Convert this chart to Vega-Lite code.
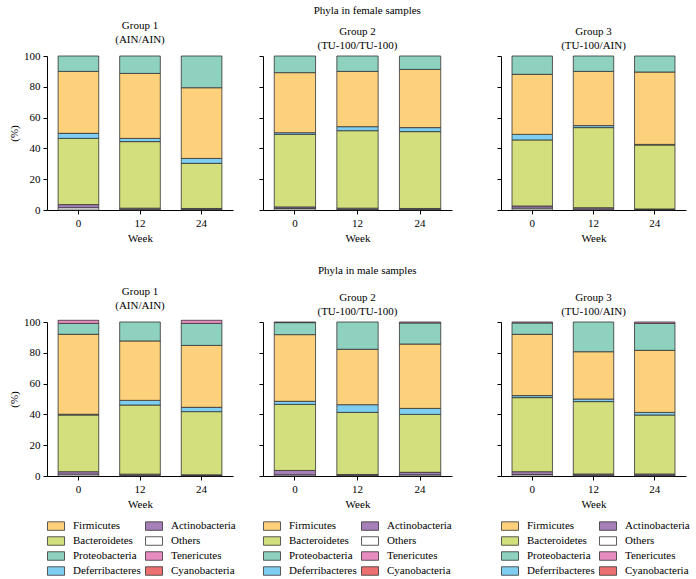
{
"$schema": "https://vega.github.io/schema/vega-lite/v6.json",
"padding": {"left": 8, "top": 5, "right": 5, "bottom": 5},
"config": {
 "font": "Liberation Serif",
 "view": {"stroke": null},
 "axis": {"domainColor": "#000", "tickColor": "#000", "labelColor": "#000", "titleColor": "#000", "labelFontSize": 11, "titleFontSize": 11, "titleFontWeight": "normal", "grid": false, "tickSize": 4, "labelPadding": 3, "domainWidth": 1},
 "title": {"fontSize": 11, "fontWeight": "normal", "color": "#000", "subtitleFontSize": 11, "subtitleColor": "#000", "anchor": "middle", "offset": 5, "subtitlePadding": 3},
 "legend": {"orient": "bottom", "columns": 2, "symbolType": "M-1,-0.5H1V0.5H-1Z", "symbolSize": 289, "symbolStrokeColor": "#333", "symbolStrokeWidth": 0.8, "labelFontSize": 11, "labelColor": "#000", "labelOffset": 8, "columnPadding": 2, "rowPadding": -7, "offset": 8}
},
"datasets": {
 "phyla": [
  {"phylum": "Others", "stack": 0},
  {"phylum": "Actinobacteria", "stack": 1},
  {"phylum": "Cyanobacteria", "stack": 2},
  {"phylum": "Bacteroidetes", "stack": 3},
  {"phylum": "Deferribacteres", "stack": 4},
  {"phylum": "Firmicutes", "stack": 5},
  {"phylum": "Proteobacteria", "stack": 6},
  {"phylum": "Tenericutes", "stack": 7}
 ],
 "bars": [
  {"sex": "female", "group": 1, "week": 0, "phylum": "Others", "value": 1.5},
  {"sex": "female", "group": 1, "week": 0, "phylum": "Actinobacteria", "value": 2.0},
  {"sex": "female", "group": 1, "week": 0, "phylum": "Bacteroidetes", "value": 43.0},
  {"sex": "female", "group": 1, "week": 0, "phylum": "Deferribacteres", "value": 3.3},
  {"sex": "female", "group": 1, "week": 0, "phylum": "Firmicutes", "value": 40.2},
  {"sex": "female", "group": 1, "week": 0, "phylum": "Proteobacteria", "value": 10.0},
  {"sex": "female", "group": 1, "week": 12, "phylum": "Others", "value": 0.5},
  {"sex": "female", "group": 1, "week": 12, "phylum": "Actinobacteria", "value": 0.7},
  {"sex": "female", "group": 1, "week": 12, "phylum": "Bacteroidetes", "value": 43.2},
  {"sex": "female", "group": 1, "week": 12, "phylum": "Deferribacteres", "value": 2.1},
  {"sex": "female", "group": 1, "week": 12, "phylum": "Firmicutes", "value": 42.2},
  {"sex": "female", "group": 1, "week": 12, "phylum": "Proteobacteria", "value": 11.3},
  {"sex": "female", "group": 1, "week": 24, "phylum": "Others", "value": 0.4},
  {"sex": "female", "group": 1, "week": 24, "phylum": "Actinobacteria", "value": 0.6},
  {"sex": "female", "group": 1, "week": 24, "phylum": "Bacteroidetes", "value": 29.3},
  {"sex": "female", "group": 1, "week": 24, "phylum": "Deferribacteres", "value": 3.2},
  {"sex": "female", "group": 1, "week": 24, "phylum": "Firmicutes", "value": 45.9},
  {"sex": "female", "group": 1, "week": 24, "phylum": "Proteobacteria", "value": 20.6},
  {"sex": "female", "group": 2, "week": 0, "phylum": "Others", "value": 1.0},
  {"sex": "female", "group": 2, "week": 0, "phylum": "Actinobacteria", "value": 1.0},
  {"sex": "female", "group": 2, "week": 0, "phylum": "Bacteroidetes", "value": 47.1},
  {"sex": "female", "group": 2, "week": 0, "phylum": "Deferribacteres", "value": 1.1},
  {"sex": "female", "group": 2, "week": 0, "phylum": "Firmicutes", "value": 39.0},
  {"sex": "female", "group": 2, "week": 0, "phylum": "Proteobacteria", "value": 10.8},
  {"sex": "female", "group": 2, "week": 12, "phylum": "Others", "value": 0.4},
  {"sex": "female", "group": 2, "week": 12, "phylum": "Actinobacteria", "value": 0.8},
  {"sex": "female", "group": 2, "week": 12, "phylum": "Bacteroidetes", "value": 50.3},
  {"sex": "female", "group": 2, "week": 12, "phylum": "Deferribacteres", "value": 2.6},
  {"sex": "female", "group": 2, "week": 12, "phylum": "Firmicutes", "value": 35.9},
  {"sex": "female", "group": 2, "week": 12, "phylum": "Proteobacteria", "value": 10.0},
  {"sex": "female", "group": 2, "week": 24, "phylum": "Others", "value": 0.4},
  {"sex": "female", "group": 2, "week": 24, "phylum": "Actinobacteria", "value": 0.6},
  {"sex": "female", "group": 2, "week": 24, "phylum": "Bacteroidetes", "value": 49.9},
  {"sex": "female", "group": 2, "week": 24, "phylum": "Deferribacteres", "value": 2.6},
  {"sex": "female", "group": 2, "week": 24, "phylum": "Firmicutes", "value": 37.8},
  {"sex": "female", "group": 2, "week": 24, "phylum": "Proteobacteria", "value": 8.7},
  {"sex": "female", "group": 3, "week": 0, "phylum": "Others", "value": 1.2},
  {"sex": "female", "group": 3, "week": 0, "phylum": "Actinobacteria", "value": 1.4},
  {"sex": "female", "group": 3, "week": 0, "phylum": "Bacteroidetes", "value": 42.9},
  {"sex": "female", "group": 3, "week": 0, "phylum": "Deferribacteres", "value": 3.6},
  {"sex": "female", "group": 3, "week": 0, "phylum": "Firmicutes", "value": 39.0},
  {"sex": "female", "group": 3, "week": 0, "phylum": "Proteobacteria", "value": 11.9},
  {"sex": "female", "group": 3, "week": 12, "phylum": "Others", "value": 0.6},
  {"sex": "female", "group": 3, "week": 12, "phylum": "Actinobacteria", "value": 0.9},
  {"sex": "female", "group": 3, "week": 12, "phylum": "Bacteroidetes", "value": 52.0},
  {"sex": "female", "group": 3, "week": 12, "phylum": "Deferribacteres", "value": 1.3},
  {"sex": "female", "group": 3, "week": 12, "phylum": "Firmicutes", "value": 35.2},
  {"sex": "female", "group": 3, "week": 12, "phylum": "Proteobacteria", "value": 10.0},
  {"sex": "female", "group": 3, "week": 24, "phylum": "Others", "value": 0.3},
  {"sex": "female", "group": 3, "week": 24, "phylum": "Actinobacteria", "value": 0.4},
  {"sex": "female", "group": 3, "week": 24, "phylum": "Bacteroidetes", "value": 41.5},
  {"sex": "female", "group": 3, "week": 24, "phylum": "Deferribacteres", "value": 0.4},
  {"sex": "female", "group": 3, "week": 24, "phylum": "Firmicutes", "value": 47.0},
  {"sex": "female", "group": 3, "week": 24, "phylum": "Proteobacteria", "value": 10.4},
  {"sex": "male", "group": 1, "week": 0, "phylum": "Others", "value": 1.2},
  {"sex": "male", "group": 1, "week": 0, "phylum": "Actinobacteria", "value": 1.6},
  {"sex": "male", "group": 1, "week": 0, "phylum": "Bacteroidetes", "value": 36.8},
  {"sex": "male", "group": 1, "week": 0, "phylum": "Deferribacteres", "value": 0.5},
  {"sex": "male", "group": 1, "week": 0, "phylum": "Firmicutes", "value": 51.9},
  {"sex": "male", "group": 1, "week": 0, "phylum": "Proteobacteria", "value": 7.1},
  {"sex": "male", "group": 1, "week": 0, "phylum": "Tenericutes", "value": 2.0},
  {"sex": "male", "group": 1, "week": 12, "phylum": "Others", "value": 0.5},
  {"sex": "male", "group": 1, "week": 12, "phylum": "Actinobacteria", "value": 0.7},
  {"sex": "male", "group": 1, "week": 12, "phylum": "Bacteroidetes", "value": 44.9},
  {"sex": "male", "group": 1, "week": 12, "phylum": "Deferribacteres", "value": 3.0},
  {"sex": "male", "group": 1, "week": 12, "phylum": "Firmicutes", "value": 38.6},
  {"sex": "male", "group": 1, "week": 12, "phylum": "Proteobacteria", "value": 12.3},
  {"sex": "male", "group": 1, "week": 24, "phylum": "Others", "value": 0.3},
  {"sex": "male", "group": 1, "week": 24, "phylum": "Actinobacteria", "value": 0.5},
  {"sex": "male", "group": 1, "week": 24, "phylum": "Bacteroidetes", "value": 41.0},
  {"sex": "male", "group": 1, "week": 24, "phylum": "Deferribacteres", "value": 2.8},
  {"sex": "male", "group": 1, "week": 24, "phylum": "Firmicutes", "value": 40.2},
  {"sex": "male", "group": 1, "week": 24, "phylum": "Proteobacteria", "value": 14.3},
  {"sex": "male", "group": 1, "week": 24, "phylum": "Tenericutes", "value": 2.0},
  {"sex": "male", "group": 2, "week": 0, "phylum": "Others", "value": 0.8},
  {"sex": "male", "group": 2, "week": 0, "phylum": "Actinobacteria", "value": 2.8},
  {"sex": "male", "group": 2, "week": 0, "phylum": "Bacteroidetes", "value": 42.9},
  {"sex": "male", "group": 2, "week": 0, "phylum": "Deferribacteres", "value": 2.0},
  {"sex": "male", "group": 2, "week": 0, "phylum": "Firmicutes", "value": 43.3},
  {"sex": "male", "group": 2, "week": 0, "phylum": "Proteobacteria", "value": 7.8},
  {"sex": "male", "group": 2, "week": 0, "phylum": "Tenericutes", "value": 0.4},
  {"sex": "male", "group": 2, "week": 12, "phylum": "Others", "value": 0.4},
  {"sex": "male", "group": 2, "week": 12, "phylum": "Actinobacteria", "value": 0.6},
  {"sex": "male", "group": 2, "week": 12, "phylum": "Bacteroidetes", "value": 40.3},
  {"sex": "male", "group": 2, "week": 12, "phylum": "Deferribacteres", "value": 5.0},
  {"sex": "male", "group": 2, "week": 12, "phylum": "Firmicutes", "value": 36.0},
  {"sex": "male", "group": 2, "week": 12, "phylum": "Proteobacteria", "value": 17.7},
  {"sex": "male", "group": 2, "week": 24, "phylum": "Others", "value": 0.8},
  {"sex": "male", "group": 2, "week": 24, "phylum": "Actinobacteria", "value": 1.6},
  {"sex": "male", "group": 2, "week": 24, "phylum": "Bacteroidetes", "value": 37.6},
  {"sex": "male", "group": 2, "week": 24, "phylum": "Deferribacteres", "value": 3.9},
  {"sex": "male", "group": 2, "week": 24, "phylum": "Firmicutes", "value": 41.8},
  {"sex": "male", "group": 2, "week": 24, "phylum": "Proteobacteria", "value": 13.7},
  {"sex": "male", "group": 2, "week": 24, "phylum": "Tenericutes", "value": 0.6},
  {"sex": "male", "group": 3, "week": 0, "phylum": "Others", "value": 1.0},
  {"sex": "male", "group": 3, "week": 0, "phylum": "Actinobacteria", "value": 1.8},
  {"sex": "male", "group": 3, "week": 0, "phylum": "Bacteroidetes", "value": 48.1},
  {"sex": "male", "group": 3, "week": 0, "phylum": "Deferribacteres", "value": 1.3},
  {"sex": "male", "group": 3, "week": 0, "phylum": "Firmicutes", "value": 39.8},
  {"sex": "male", "group": 3, "week": 0, "phylum": "Proteobacteria", "value": 7.4},
  {"sex": "male", "group": 3, "week": 0, "phylum": "Tenericutes", "value": 0.6},
  {"sex": "male", "group": 3, "week": 12, "phylum": "Others", "value": 0.5},
  {"sex": "male", "group": 3, "week": 12, "phylum": "Actinobacteria", "value": 0.8},
  {"sex": "male", "group": 3, "week": 12, "phylum": "Bacteroidetes", "value": 47.0},
  {"sex": "male", "group": 3, "week": 12, "phylum": "Deferribacteres", "value": 1.7},
  {"sex": "male", "group": 3, "week": 12, "phylum": "Firmicutes", "value": 30.7},
  {"sex": "male", "group": 3, "week": 12, "phylum": "Proteobacteria", "value": 19.3},
  {"sex": "male", "group": 3, "week": 24, "phylum": "Others", "value": 0.4},
  {"sex": "male", "group": 3, "week": 24, "phylum": "Actinobacteria", "value": 0.9},
  {"sex": "male", "group": 3, "week": 24, "phylum": "Bacteroidetes", "value": 38.3},
  {"sex": "male", "group": 3, "week": 24, "phylum": "Deferribacteres", "value": 1.7},
  {"sex": "male", "group": 3, "week": 24, "phylum": "Firmicutes", "value": 40.3},
  {"sex": "male", "group": 3, "week": 24, "phylum": "Proteobacteria", "value": 17.5},
  {"sex": "male", "group": 3, "week": 24, "phylum": "Tenericutes", "value": 0.9}
 ]
},
"spacing": 22,
"resolve": {"scale": {"color": "independent"}, "legend": {"color": "independent"}},
"vconcat": [
 {
  "title": {"text": "Phyla in female samples", "offset": 4, "dx": 20},
  "spacing": 44,
  "resolve": {"scale": {"color": "independent"}, "legend": {"color": "independent"}},
  "hconcat": [
   {
    "spacing": 25,
    "resolve": {"scale": {"color": "independent"}, "legend": {"color": "independent"}},
    "hconcat": [
     {
      "width": 186, "height": 154,
      "title": {"text": "Group 1", "subtitle": "(AIN/AIN)"},
      "data": {"name": "bars"},
      "transform": [{"filter": "datum.sex === 'female' && datum.group === 1"}, {"lookup": "phylum", "from": {"data": {"name": "phyla"}, "key": "phylum", "fields": ["stack"]}}],
      "mark": {"type": "bar", "stroke": "#333", "strokeWidth": 0.8},
      "encoding": {
       "x": {"field": "week", "type": "ordinal", "scale": {"paddingInner": 0.34, "paddingOuter": 0.18}, "axis": {"labelAngle": 0, "title": "Week", "titlePadding": 4}},
       "y": {"field": "value", "type": "quantitative", "stack": "zero", "scale": {"domain": [0, 100], "nice": false}, "axis": {"values": [0, 20, 40, 60, 80, 100], "title": "(%)", "titlePadding": 4}},
       "color": {"field": "phylum", "type": "nominal", "legend": null, "scale": {"domain": ["Firmicutes", "Actinobacteria", "Bacteroidetes", "Others", "Proteobacteria", "Tenericutes", "Deferribacteres", "Cyanobacteria"], "range": ["#FDD17B", "#A67FB8", "#D3DF7D", "#FFFFFF", "#8ED1BF", "#E78BC0", "#7DCEF0", "#EC7070"]}},
       "order": {"field": "stack", "type": "quantitative", "sort": "ascending"}
      }
     },
     {
      "width": 189, "height": 154,
      "title": {"text": "Group 2", "subtitle": "(TU-100/TU-100)"},
      "data": {"name": "bars"},
      "transform": [{"filter": "datum.sex === 'female' && datum.group === 2"}, {"lookup": "phylum", "from": {"data": {"name": "phyla"}, "key": "phylum", "fields": ["stack"]}}],
      "mark": {"type": "bar", "stroke": "#333", "strokeWidth": 0.8},
      "encoding": {
       "x": {"field": "week", "type": "ordinal", "scale": {"paddingInner": 0.34, "paddingOuter": 0.18}, "axis": {"labelAngle": 0, "title": "Week", "titlePadding": 4}},
       "y": {"field": "value", "type": "quantitative", "stack": "zero", "scale": {"domain": [0, 100], "nice": false}, "axis": {"values": [0, 20, 40, 60, 80, 100], "labels": false, "title": null}},
       "color": {"field": "phylum", "type": "nominal", "legend": null, "scale": {"domain": ["Firmicutes", "Actinobacteria", "Bacteroidetes", "Others", "Proteobacteria", "Tenericutes", "Deferribacteres", "Cyanobacteria"], "range": ["#FDD17B", "#A67FB8", "#D3DF7D", "#FFFFFF", "#8ED1BF", "#E78BC0", "#7DCEF0", "#EC7070"]}},
       "order": {"field": "stack", "type": "quantitative", "sort": "ascending"}
      }
     }
    ]
   },
   {
    "width": 185, "height": 154,
    "title": {"text": "Group 3", "subtitle": "(TU-100/AIN)"},
    "data": {"name": "bars"},
    "transform": [{"filter": "datum.sex === 'female' && datum.group === 3"}, {"lookup": "phylum", "from": {"data": {"name": "phyla"}, "key": "phylum", "fields": ["stack"]}}],
    "mark": {"type": "bar", "stroke": "#333", "strokeWidth": 0.8},
    "encoding": {
     "x": {"field": "week", "type": "ordinal", "scale": {"paddingInner": 0.34, "paddingOuter": 0.18}, "axis": {"labelAngle": 0, "title": "Week", "titlePadding": 4}},
     "y": {"field": "value", "type": "quantitative", "stack": "zero", "scale": {"domain": [0, 100], "nice": false}, "axis": {"values": [0, 20, 40, 60, 80, 100], "labels": false, "title": null}},
     "color": {"field": "phylum", "type": "nominal", "legend": null, "scale": {"domain": ["Firmicutes", "Actinobacteria", "Bacteroidetes", "Others", "Proteobacteria", "Tenericutes", "Deferribacteres", "Cyanobacteria"], "range": ["#FDD17B", "#A67FB8", "#D3DF7D", "#FFFFFF", "#8ED1BF", "#E78BC0", "#7DCEF0", "#EC7070"]}},
     "order": {"field": "stack", "type": "quantitative", "sort": "ascending"}
    }
   }
  ]
 },
 {
  "title": {"text": "Phyla in male samples", "offset": 10, "dx": 18},
  "spacing": 44,
  "resolve": {"scale": {"color": "independent"}, "legend": {"color": "independent"}},
  "hconcat": [
   {
    "spacing": 22,
    "resolve": {"scale": {"color": "independent"}, "legend": {"color": "independent"}},
    "hconcat": [
     {
      "width": 186, "height": 154,
      "title": {"text": "Group 1", "subtitle": "(AIN/AIN)"},
      "data": {"name": "bars"},
      "transform": [{"filter": "datum.sex === 'male' && datum.group === 1"}, {"lookup": "phylum", "from": {"data": {"name": "phyla"}, "key": "phylum", "fields": ["stack"]}}],
      "mark": {"type": "bar", "stroke": "#333", "strokeWidth": 0.8},
      "encoding": {
       "x": {"field": "week", "type": "ordinal", "scale": {"paddingInner": 0.34, "paddingOuter": 0.18}, "axis": {"labelAngle": 0, "title": "Week", "titlePadding": 4}},
       "y": {"field": "value", "type": "quantitative", "stack": "zero", "scale": {"domain": [0, 100], "nice": false}, "axis": {"values": [0, 20, 40, 60, 80, 100], "title": "(%)", "titlePadding": 4}},
       "color": {"field": "phylum", "type": "nominal", "title": null, "scale": {"domain": ["Firmicutes", "Actinobacteria", "Bacteroidetes", "Others", "Proteobacteria", "Tenericutes", "Deferribacteres", "Cyanobacteria"], "range": ["#FDD17B", "#A67FB8", "#D3DF7D", "#FFFFFF", "#8ED1BF", "#E78BC0", "#7DCEF0", "#EC7070"]}},
       "order": {"field": "stack", "type": "quantitative", "sort": "ascending"}
      }
     },
     {
      "width": 189, "height": 154,
      "title": {"text": "Group 2", "subtitle": "(TU-100/TU-100)"},
      "data": {"name": "bars"},
      "transform": [{"filter": "datum.sex === 'male' && datum.group === 2"}, {"lookup": "phylum", "from": {"data": {"name": "phyla"}, "key": "phylum", "fields": ["stack"]}}],
      "mark": {"type": "bar", "stroke": "#333", "strokeWidth": 0.8},
      "encoding": {
       "x": {"field": "week", "type": "ordinal", "scale": {"paddingInner": 0.34, "paddingOuter": 0.18}, "axis": {"labelAngle": 0, "title": "Week", "titlePadding": 4}},
       "y": {"field": "value", "type": "quantitative", "stack": "zero", "scale": {"domain": [0, 100], "nice": false}, "axis": {"values": [0, 20, 40, 60, 80, 100], "labels": false, "title": null}},
       "color": {"field": "phylum", "type": "nominal", "title": null, "scale": {"domain": ["Firmicutes", "Actinobacteria", "Bacteroidetes", "Others", "Proteobacteria", "Tenericutes", "Deferribacteres", "Cyanobacteria"], "range": ["#FDD17B", "#A67FB8", "#D3DF7D", "#FFFFFF", "#8ED1BF", "#E78BC0", "#7DCEF0", "#EC7070"]}},
       "order": {"field": "stack", "type": "quantitative", "sort": "ascending"}
      }
     }
    ]
   },
   {
    "width": 185, "height": 154,
    "title": {"text": "Group 3", "subtitle": "(TU-100/AIN)"},
    "data": {"name": "bars"},
    "transform": [{"filter": "datum.sex === 'male' && datum.group === 3"}, {"lookup": "phylum", "from": {"data": {"name": "phyla"}, "key": "phylum", "fields": ["stack"]}}],
    "mark": {"type": "bar", "stroke": "#333", "strokeWidth": 0.8},
    "encoding": {
     "x": {"field": "week", "type": "ordinal", "scale": {"paddingInner": 0.34, "paddingOuter": 0.18}, "axis": {"labelAngle": 0, "title": "Week", "titlePadding": 4}},
     "y": {"field": "value", "type": "quantitative", "stack": "zero", "scale": {"domain": [0, 100], "nice": false}, "axis": {"values": [0, 20, 40, 60, 80, 100], "labels": false, "title": null}},
     "color": {"field": "phylum", "type": "nominal", "title": null, "scale": {"domain": ["Firmicutes", "Actinobacteria", "Bacteroidetes", "Others", "Proteobacteria", "Tenericutes", "Deferribacteres", "Cyanobacteria"], "range": ["#FDD17B", "#A67FB8", "#D3DF7D", "#FFFFFF", "#8ED1BF", "#E78BC0", "#7DCEF0", "#EC7070"]}},
     "order": {"field": "stack", "type": "quantitative", "sort": "ascending"}
    }
   }
  ]
 }
]
}
